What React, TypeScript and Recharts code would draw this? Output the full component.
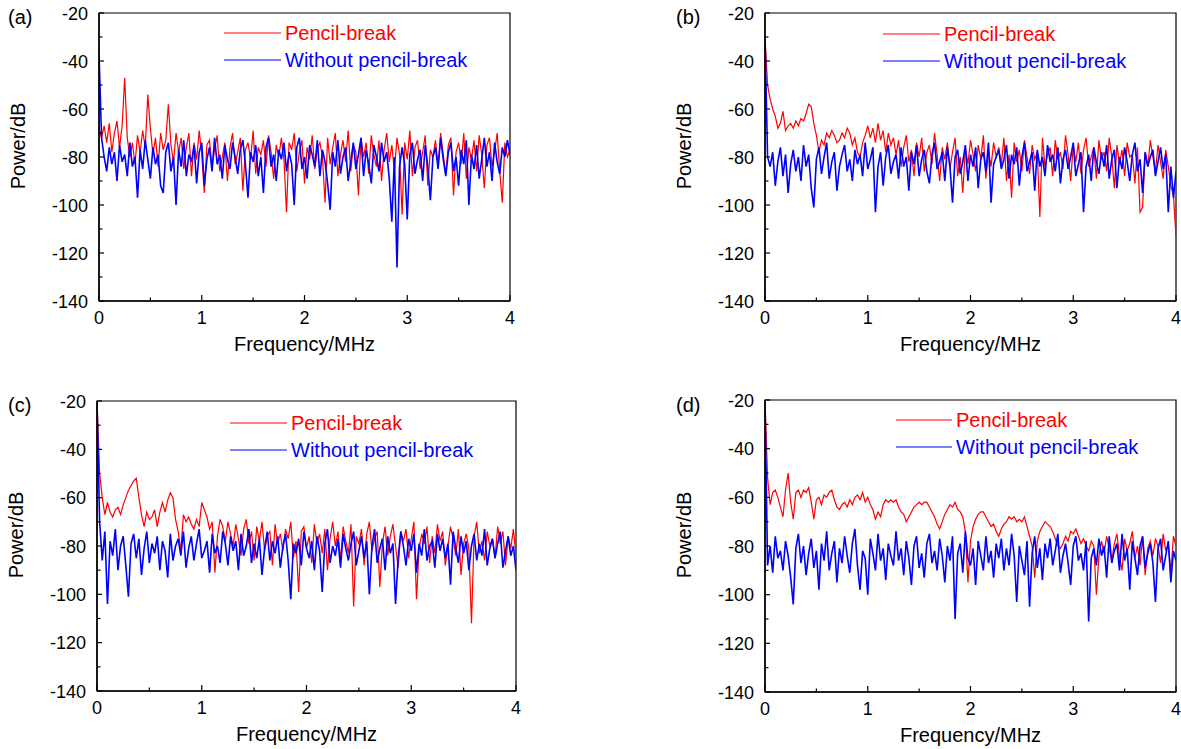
import React from "react";
import { LineChart, Line, XAxis, YAxis, ReferenceArea } from "recharts";

// spectra are sampled on a uniform grid, 0..4 MHz
const FREQ_STEP = 0.025;
const X_TICKS = [0, 0.5, 1, 1.5, 2, 2.5, 3, 3.5, 4];
const Y_TICKS = [-140, -130, -120, -110, -100, -90, -80, -70, -60, -50, -40, -30, -20];
const FONT = "Arial, 'Liberation Sans', Helvetica, sans-serif";
const RED = "#ff0000";
const BLUE = "#0000ff";

// (a)
const redA = [
  -68, -72, -67, -74, -66, -78, -70, -65, -76, -67, -47, -72, -80, -74, -83, -71, -78, -69, -76, -54, -68, -79, -72, -84, -70, -77, -73, -58, -75, -82, -70,
  -78, -72, -85, -76, -70, -88, -74, -81, -69, -79, -95, -75, -73, -84, -77, -71, -86, -80, -74, -90,
  -76, -70, -83, -78, -72, -94, -77, -74, -81, -69, -87, -76, -79, -73, -84, -71, -78, -89, -75, -80,
  -72, -81, -103, -74, -77, -70, -86, -78, -73, -91, -76, -81, -71, -85, -77, -74, -80, -99, -72, -83,
  -76, -70, -88, -79, -73, -82, -69, -86, -75, -78, -96, -72, -80, -74, -87, -71, -79, -84, -73, -90,
  -77, -70, -82, -75, -86, -72, -79, -104, -74, -81, -69, -88, -76, -73, -85, -78, -71, -92, -77, -80,
  -73, -84, -70, -79, -87, -75, -72, -96, -78, -74, -83, -70, -89, -76, -81, -73, -86, -71, -79, -93,
  -75, -72, -84, -78, -70, -86, -99, -74, -80, -77,
];
const blueA = [
  -37, -72, -80, -86, -76, -83, -78, -90, -75, -82, -79, -88, -74, -84, -80, -97, -77, -85, -73, -81, -89, -76, -83, -79, -92, -95, -78, -74, -86, -80, -100,
  -77, -84, -73, -88, -79, -82, -75, -91, -78, -74, -92, -81, -76, -86, -72, -83, -79, -89, -75, -81,
  -85, -74, -80, -87, -77, -73, -83, -97, -78, -82, -75, -88, -80, -95, -76, -72, -84, -79, -90, -77,
  -81, -74, -86, -78, -83, -100, -76, -72, -85, -80, -89, -75, -79, -84, -73, -88, -77, -82, -91, -102,
  -78, -84, -73, -87, -80, -76, -90, -82, -74, -85, -79, -72, -88, -77, -83, -91, -75, -80, -86, -74,
  -82, -78, -89, -107, -80, -126, -84, -76, -83, -106, -79, -74, -87, -81, -77, -90, -75, -84, -98, -80,
  -76, -85, -72, -81, -88, -78, -74, -86, -80, -92, -77, -83, -73, -100, -79, -85, -75, -89, -81, -72,
  -84, -78, -90, -74, -82, -87, -76, -80, -73, -79,
];

// (b)
const redB = [
  -30, -50, -56, -60, -63, -68, -66, -61, -69, -67, -66, -68, -65, -67, -64, -65, -62, -58, -59, -66, -71, -78, -73, -75, -70, -72, -69, -71, -74, -73, -70,
  -72, -68, -70, -75, -72, -78, -80, -74, -71, -67, -72, -68, -74, -66, -73, -69, -78, -70, -75, -72,
  -79, -73, -84, -76, -71, -82, -77, -88, -74, -80, -72, -86, -78, -75, -83, -70, -79, -90, -76, -81,
  -74, -85, -78, -72, -88, -80, -95, -76, -83, -73, -79, -86, -75, -81, -71, -89, -77, -84, -74, -80,
  -76, -83, -72, -90, -79, -97, -74, -82, -77, -86, -73, -80, -87, -75, -81, -78, -105, -72, -84, -79,
  -76, -88, -73, -81, -78, -85, -71, -79, -90, -75, -82, -74, -87, -77, -72, -84, -80, -76, -89, -73,
  -81, -78, -86, -72, -80, -93, -75, -83, -77, -88, -74, -80, -79, -91, -76, -103, -101, -78, -84, -73,
  -80, -86, -75, -82, -89, -77, -84, -92, -96, -113,
];
const blueB = [
  -30, -80, -84, -78, -92, -82, -76, -88, -79, -95, -83, -77, -86, -80, -90, -75, -84, -79, -93, -101, -81, -76, -87, -80, -74, -89, -82, -78, -94, -84, -79,
  -75, -86, -81, -90, -77, -83, -79, -88, -74, -85, -81, -76, -103, -84, -78, -92, -80, -75, -87, -82,
  -79, -89, -76, -84, -80, -94, -78, -83, -75, -88, -81, -77, -86, -91, -79, -74, -85, -82, -78, -90,
  -76, -84, -99, -80, -77, -87, -82, -75, -90, -79, -84, -76, -93, -81, -78, -86, -74, -99, -83, -80,
  -77, -85, -81, -75, -89, -79, -83, -76, -92, -80, -74, -86, -82, -78, -94, -77, -84, -80, -88, -75,
  -82, -79, -86, -76, -91, -81, -77, -85, -80, -74, -88, -83, -78, -103, -84, -79, -90, -76, -82, -87,
  -78, -84, -75, -89, -81, -77, -93, -80, -85, -76, -82, -90, -79, -74, -86, -81, -95, -78, -84, -80,
  -77, -88, -82, -76, -85, -79, -103, -84, -97, -86,
];

// (c)
const redC = [
  -20, -50, -60, -67, -62, -66, -68, -65, -64, -67, -63, -60, -57, -55, -53, -52, -60, -67, -72, -66, -69, -68, -65, -72, -66, -62, -66, -61, -58, -60, -69,
  -74, -82, -67, -70, -68, -71, -73, -69, -72, -62, -65, -68, -73, -70, -91, -76, -69, -72, -78, -70,
  -75, -80, -71, -77, -84, -73, -69, -79, -74, -86, -72, -78, -70, -82, -76, -74, -88, -71, -79, -75,
  -82, -73, -77, -70, -85, -78, -99, -74, -72, -81, -76, -87, -71, -79, -75, -83, -73, -90, -77, -70,
  -80, -74, -86, -72, -78, -83, -71, -105, -76, -79, -73, -88, -75, -70, -82, -77, -74, -97, -79, -72,
  -84, -76, -71, -80, -89, -74, -78, -73, -85, -77, -70, -102, -81, -75, -79, -72, -87, -76, -83, -71,
  -78, -74, -88, -80, -72, -77, -84, -73, -92, -79, -75, -81, -112, -76, -70, -83, -78, -86, -74, -80,
  -77, -85, -72, -79, -74, -88, -76, -81, -73, -84,
];
const blueC = [
  -20, -70, -86, -74, -104, -78, -84, -73, -90, -80, -76, -88, -101, -79, -75, -85, -77, -92, -81, -74, -87, -79, -83, -76, -90, -78, -82, -93, -75, -86, -80,
  -77, -84, -74, -89, -81, -76, -86, -79, -73, -85, -82, -78, -91, -75, -83, -80, -87, -74, -79, -88,
  -76, -82, -78, -90, -75, -84, -80, -73, -87, -79, -85, -77, -92, -81, -74, -86, -78, -83, -76, -89,
  -80, -75, -86, -102, -79, -83, -77, -88, -74, -81, -85, -78, -90, -76, -82, -99, -79, -73, -87, -80,
  -84, -77, -89, -75, -81, -86, -79, -74, -88, -82, -76, -85, -78, -100, -80, -73, -87, -81, -77, -90,
  -76, -83, -79, -104, -85, -74, -80, -88, -77, -82, -75, -91, -79, -84, -73, -86, -80, -78, -89, -75,
  -82, -77, -85, -79, -96, -74, -81, -87, -76, -83, -78, -90, -80, -75, -86, -79, -84, -73, -88, -81,
  -77, -85, -79, -74, -89, -82, -76, -84, -80, -90,
];

// (d)
const redD = [
  -20, -52, -63, -58, -57, -60, -64, -68, -57, -50, -62, -69, -58, -57, -60, -57, -58, -56, -62, -69, -61, -60, -63, -59, -60, -58, -57, -61, -64, -65, -63,
  -62, -64, -61, -63, -60, -59, -61, -58, -62, -60, -63, -65, -69, -66, -68, -63, -61, -62, -61, -62,
  -61, -64, -66, -67, -70, -68, -66, -64, -63, -62, -63, -62, -62, -64, -66, -68, -71, -73, -70, -67,
  -65, -63, -64, -62, -65, -66, -68, -74, -95, -78, -72, -69, -67, -66, -66, -68, -70, -72, -71, -74,
  -76, -73, -71, -70, -68, -69, -68, -70, -69, -70, -68, -72, -76, -80, -93, -78, -74, -72, -70, -71,
  -72, -74, -77, -80, -81, -79, -76, -78, -74, -75, -73, -76, -79, -77, -80, -82, -78, -80, -100, -84,
  -78, -83, -76, -81, -86, -79, -75, -84, -90, -77, -82, -79, -74, -85, -80, -88, -76, -92, -81, -78,
  -84, -77, -80, -87, -75, -82, -79, -91, -76, -80,
];
const blueD = [
  -20, -88, -80, -91, -76, -85, -82, -90, -78, -84, -93, -104, -81, -75, -87, -80, -92, -83, -77, -89, -82, -98, -79, -86, -74, -90, -83, -78, -95, -81, -87,
  -76, -84, -91, -79, -73, -88, -98, -82, -85, -100, -77, -83, -90, -75, -86, -81, -94, -79, -84, -88,
  -74, -86, -81, -92, -78, -85, -96, -80, -76, -89, -83, -93, -79, -75, -87, -82, -90, -77, -84, -95,
  -80, -86, -76, -110, -83, -79, -91, -74, -85, -88, -81, -96, -78, -84, -90, -76, -87, -82, -93, -79,
  -85, -77, -90, -81, -88, -75, -84, -103, -80, -86, -92, -78, -105, -83, -76, -89, -81, -94, -79, -85,
  -77, -88, -82, -75, -91, -84, -79, -87, -96, -80, -76, -86, -83, -90, -78, -111, -85, -81, -88, -77,
  -84, -80, -93, -76, -87, -82, -79, -90, -75, -86, -81, -98, -78, -85, -92, -80, -76, -89, -83, -79,
  -87, -103, -81, -77, -90, -84, -78, -95, -82, -86,
];

interface PanelCfg {
  label: string;
  left: number; // plot area, page px
  top: number;
  w: number;
  h: number;
  red: number[];
  blue: number[];
  legX1: number; // legend, relative to plot origin
  legX2: number;
  legY: number;
  labelX: number;
  labelY: number;
}

const PANELS: PanelCfg[] = [
  { label: "(a)", left: 99, top: 13, w: 411, h: 288, red: redA, blue: blueA, legX1: 125, legX2: 182, legY: 20, labelX: 8, labelY: 24 },
  { label: "(b)", left: 765, top: 13, w: 411, h: 288, red: redB, blue: blueB, legX1: 118, legX2: 175, legY: 21, labelX: 676, labelY: 24 },
  { label: "(c)", left: 97, top: 401, w: 419, h: 290, red: redC, blue: blueC, legX1: 133, legX2: 190, legY: 22, labelX: 8, labelY: 412 },
  { label: "(d)", left: 765, top: 400, w: 411, h: 292, red: redD, blue: blueD, legX1: 131, legX2: 187, legY: 20, labelX: 676, labelY: 412 },
];

function XTick(props: any) {
  const { x, y, payload } = props;
  const major = Number.isInteger(payload.value);
  return (
    <g>
      <line x1={x} x2={x} y1={y} y2={y - (major ? 6 : 3.5)} stroke="#000" strokeWidth={1.2} />
      {major && (
        <text x={x} y={y + 23} textAnchor="middle" fontSize={18} fontFamily={FONT} fill="#000">
          {payload.value}
        </text>
      )}
    </g>
  );
}

function YTick(props: any) {
  const { x, y, payload } = props;
  const major = payload.value % 20 === 0;
  return (
    <g>
      <line x1={x} x2={x + (major ? 5 : 3.5)} y1={y} y2={y} stroke="#000" strokeWidth={1.2} />
      {major && (
        <text x={x - 11} y={y + 6.5} textAnchor="end" fontSize={18} fontFamily={FONT} fill="#000">
          {payload.value}
        </text>
      )}
    </g>
  );
}

function Panel({ cfg }: { cfg: PanelCfg }) {
  const { left, top, w, h, red, blue } = cfg;
  const rows = red.map((v, i) => ({ f: i * FREQ_STEP, red: v, blue: blue[i] }));
  return (
    <div style={{ position: "absolute", left: left - 90, top: top - 20 }}>
      <LineChart width={w + 100} height={h + 80} data={rows} margin={{ top: 20, right: 10, bottom: 0, left: 0 }}>
        <ReferenceArea x1={0} x2={4} y1={-140} y2={-20} fill="none" stroke="#000" strokeWidth={1.2} ifOverflow="visible" />
        <XAxis
          type="number"
          dataKey="f"
          domain={[0, 4]}
          ticks={X_TICKS}
          interval={0}
          tickSize={0}
          tickMargin={0}
          height={60}
          allowDataOverflow
          axisLine={{ stroke: "#000", strokeWidth: 1.5 }}
          tickLine={false}
          tick={(p: any) => <XTick {...p} />}
        />
        <YAxis
          type="number"
          domain={[-140, -20]}
          ticks={Y_TICKS}
          interval={0}
          tickSize={0}
          tickMargin={0}
          width={90}
          allowDataOverflow
          axisLine={{ stroke: "#000", strokeWidth: 1.5 }}
          tickLine={false}
          tick={(p: any) => <YTick {...p} />}
        />
        <Line type="linear" dataKey="red" stroke={RED} strokeWidth={1.2} dot={false} isAnimationActive={false} />
        <Line type="linear" dataKey="blue" stroke={BLUE} strokeWidth={1.6} dot={false} isAnimationActive={false} />
      </LineChart>
    </div>
  );
}

function Labels({ cfg }: { cfg: PanelCfg }) {
  const { left, top, w, h } = cfg;
  const cx = left - 81;
  const cy = top + h / 2 - 11;
  const ly = top + cfg.legY;
  return (
    <g fontFamily={FONT}>
      <text x={cfg.labelX} y={cfg.labelY} fontSize={20} fill="#000">
        {cfg.label}
      </text>
      <text x={cx} y={cy} fontSize={20} fill="#000" textAnchor="middle" dominantBaseline="central" transform={`rotate(-90 ${cx} ${cy})`}>
        Power/dB
      </text>
      <text x={left + w / 2} y={top + h + 50} fontSize={20} fill="#000" textAnchor="middle">
        Frequency/MHz
      </text>
      <line x1={left + cfg.legX1} x2={left + cfg.legX2} y1={ly} y2={ly} stroke={RED} strokeWidth={1.2} />
      <text x={left + cfg.legX2 + 4} y={ly + 7} fontSize={20} fill={RED}>
        Pencil-break
      </text>
      <line x1={left + cfg.legX1} x2={left + cfg.legX2} y1={ly + 27} y2={ly + 27} stroke={BLUE} strokeWidth={1.2} />
      <text x={left + cfg.legX2 + 4} y={ly + 34} fontSize={20} fill={BLUE}>
        Without pencil-break
      </text>
    </g>
  );
}

export default function App() {
  return (
    <div style={{ position: "absolute", left: 0, top: 0, width: 1181, height: 749, background: "#fff", overflow: "hidden" }}>
      {PANELS.map((p) => (
        <Panel key={p.label} cfg={p} />
      ))}
      <svg width={1181} height={749} style={{ position: "absolute", left: 0, top: 0, pointerEvents: "none" }}>
        {PANELS.map((p) => (
          <Labels key={p.label} cfg={p} />
        ))}
      </svg>
    </div>
  );
}
